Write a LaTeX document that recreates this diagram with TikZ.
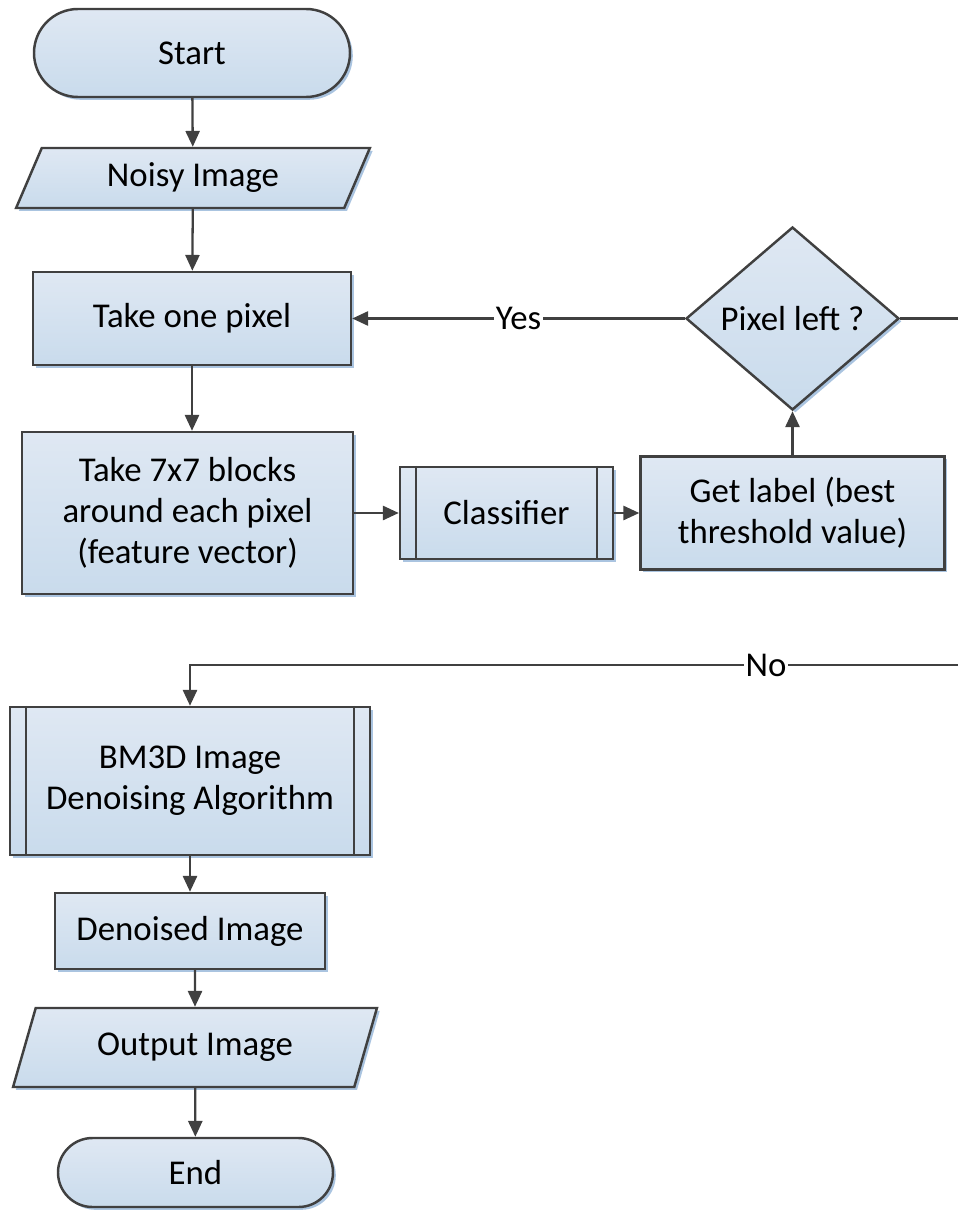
\documentclass[tikz,border=0pt]{standalone}
\usepackage{fontspec}
\setmainfont{Carlito}
\usetikzlibrary{shapes.geometric, arrows.meta, shadows}

\definecolor{boxtop}{RGB}{223, 232, 243}
\definecolor{boxbottom}{RGB}{201, 219, 236}
\definecolor{boxline}{RGB}{64, 64, 64}
\definecolor{shadowblue}{RGB}{170, 196, 224}

\tikzset{
  base/.style={draw=boxline, line width=1.4pt, top color=boxtop, bottom color=boxbottom,
    font=\fontsize{19.8}{23.5}\selectfont, align=center, inner sep=0pt,
    drop shadow={shadow xshift=1.6pt, shadow yshift=-1.6pt, fill=shadowblue, opacity=1}},
  term/.style={base, rectangle, rounded corners=#1},
  proc/.style={base, rectangle},
  io/.style={base, trapezium, trapezium left angle=64, trapezium right angle=116,
    trapezium stretches=true},
  dec/.style={base, diamond},
  line/.style={draw=boxline, line width=1.3pt},
  arr/.style={line, -{Triangle[length=9pt, width=8pt]}},
  tag/.style={fill=white, inner sep=1pt, font=\fontsize{19.8}{23.5}\selectfont}
}

\begin{document}
\begin{tikzpicture}
  \useasboundingbox (0,0) rectangle (19.16,-24.34);

  % Main column
  \node[term=0.88cm, minimum width=6.32cm, minimum height=1.76cm] (start) at (3.84,-1.06) {Start};
  \node[io, minimum width=7.08cm, minimum height=1.2cm] (noisy) at (3.86,-3.56) {Noisy Image};
  \node[proc, minimum width=6.36cm, minimum height=1.86cm] (pixel) at (3.84,-6.37) {Take one pixel};
  \node[proc, minimum width=6.62cm, minimum height=3.24cm] (blocks) at (3.75,-10.26) {Take 7x7 blocks\\around each pixel\\(feature vector)};

  % Classification row
  \node[proc, minimum width=4.26cm, minimum height=1.84cm] (classifier) at (10.13,-10.26) {Classifier};
  \node[proc, minimum width=6.08cm, minimum height=2.26cm] (label) at (15.85,-10.26) {Get label (best\\threshold value)};
  \node[dec, minimum width=4.26cm, minimum height=3.66cm] (left) at (15.85,-6.37) {Pixel left ?};

  % Lower column
  \node[proc, minimum width=7.2cm, minimum height=2.96cm] (bm3d) at (3.8,-15.62) {BM3D Image\\Denoising Algorithm};
  \node[proc, minimum width=5.4cm, minimum height=1.52cm] (denoised) at (3.8,-18.62) {Denoised Image};
  \node[io, minimum width=7.28cm, minimum height=1.58cm] (output) at (3.9,-20.95) {Output Image};
  \node[term=0.69cm, minimum width=5.5cm, minimum height=1.38cm] (end) at (3.91,-23.45) {End};

  % Inner bars of the predefined processes
  \draw[line] ([xshift=0.34cm]classifier.north west) -- ([xshift=0.34cm]classifier.south west);
  \draw[line] ([xshift=-0.34cm]classifier.north east) -- ([xshift=-0.34cm]classifier.south east);
  \draw[line] ([xshift=0.34cm]bm3d.north west) -- ([xshift=0.34cm]bm3d.south west);
  \draw[line] ([xshift=-0.34cm]bm3d.north east) -- ([xshift=-0.34cm]bm3d.south east);

  % Loose ends at the right border
  \coordinate (yesend) at (19.16,-6.37);
  \coordinate (noend) at (19.16,-13.3);

  % Edges
  \draw[arr] (start) -- (noisy);
  \draw[arr] (noisy) -- (pixel);
  \draw[arr] (pixel.south) -- (pixel.south |- blocks.north);
  \draw[arr] (blocks) -- (classifier);
  \draw[arr] (classifier) -- (label);
  \draw[arr] (label) -- (left);
  \draw[arr] (left) -- node[tag] {Yes} (pixel);
  \draw[line] (left) -- (yesend);
  \draw[arr] (noend) -| node[tag, pos=0.125] {No} (bm3d.north);
  \draw[arr] (bm3d) -- (denoised);
  \draw[arr] (denoised.south -| output) -- (output);
  \draw[arr] (output) -- (end);
\end{tikzpicture}
\end{document}
